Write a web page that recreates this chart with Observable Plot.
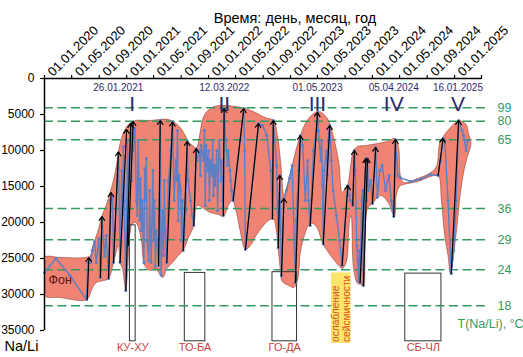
<!DOCTYPE html>
<html><head><meta charset="utf-8">
<script src="https://cdn.jsdelivr.net/npm/d3@7"></script>
<script src="https://cdn.jsdelivr.net/npm/@observablehq/plot@0.6"></script>
<style>body{margin:0;background:#fff;} svg{display:block}</style>
</head><body><div id="chart"></div>
<script>
// ---- data ----
const tickLabels = ["01.01.2020","01.05.2020","01.09.2020","01.01.2021","01.05.2021","01.09.2021","01.01.2022","01.05.2022","01.09.2022","01.01.2023","01.05.2023","01.09.2023","01.01.2024","01.05.2024","01.09.2024","01.01.2025"];
const axisStart = "01.01.2020";
const axisEnd = "01.05.2025";
const yTicks = [0, 5000, 10000, 15000, 20000, 25000, 30000, 35000];

const tempLabels = ["99","80","65","36","29","24","18"];
const tempNaLi = [4070, 5930, 8510, 18060, 22400, 26570, 31570];

const eventDates = ["26.01.2021","12.03.2022","01.05.2023","05.04.2024","16.01.2025"];
const eventNumerals = ["I","II","III","IV","V"];
const numeralLevel = 3540;
const eventDateLevel = 1250;

const quakeNames = ["КУ-ХУ","ТО-БА","ГО-ДА","СБ-ЧЛ"];
const quakeStart = [2021.04, 2021.71, 2022.78, 2024.40];
const quakeEnd = [2021.11, 2021.96, 2023.08, 2024.84];
const quakeTop = [20400, 27000, 26900, 27100];
const quakeBottom = 36500;
const quakeLabelLevel = 37300;

const weakeningText = ["ослабление", "сейсмичности"];
const weakeningStart = 2023.50, weakeningEnd = 2023.74;
const weakeningTop = 27000, weakeningBottom = 36800;

const backgroundLabel = "Фон";
const backgroundYear = 2020.05, backgroundValue = 28000;

// envelope (decimal years, Na/Li)
const envTopYear = [2020.00,2020.19,2020.50,2020.56,2020.59,2020.66,2020.70,2020.75,2020.80,2020.86,2020.92,2020.985,2021.05,2021.11,2021.29,2021.51,2021.63,2021.71,2021.75,2021.82,2021.85,2021.89,2021.94,2022.02,2022.12,2022.21,2022.33,2022.45,2022.57,2022.69,2022.79,2022.84,2022.88,2022.92,2022.95,2023.02,2023.12,2023.22,2023.34,2023.45,2023.52,2023.59,2023.63,2023.67,2023.70,2023.73,2023.77,2023.82,2023.92,2024.06,2024.18,2024.28,2024.32,2024.34,2024.38,2024.55,2024.71,2024.78,2024.82,2024.87,2024.95,2025.05,2025.14,2025.17,2025.20];
const envTopValue = [24860,24860,24860,24580,23200,20830,19030,17640,15830,13060,9030,6940,6110,5830,5830,5690,6530,7780,8750,9440,9720,7920,5280,4170,3750,3750,3890,4170,4720,5420,5830,7920,11670,16250,15280,12080,7920,5560,4580,5560,7920,11670,15830,15280,14720,12500,10000,9440,9310,9030,8750,8330,9720,13470,14450,13890,13060,12220,8890,7920,6810,5830,6390,7640,9030];
const envBotYear = [2020.00,2020.19,2020.47,2020.53,2020.58,2020.63,2020.72,2020.78,2020.84,2020.90,2020.92,2020.95,2020.97,2020.99,2021.01,2021.03,2021.05,2021.06,2021.11,2021.14,2021.18,2021.22,2021.29,2021.35,2021.44,2021.49,2021.56,2021.63,2021.69,2021.75,2021.82,2021.86,2021.94,2022.02,2022.12,2022.18,2022.24,2022.29,2022.34,2022.39,2022.45,2022.51,2022.58,2022.66,2022.73,2022.79,2022.83,2022.87,2022.90,2022.98,2023.04,2023.09,2023.12,2023.17,2023.22,2023.27,2023.33,2023.39,2023.49,2023.59,2023.63,2023.68,2023.72,2023.74,2023.77,2023.82,2023.86,2023.89,2023.91,2023.94,2024.00,2024.10,2024.20,2024.25,2024.27,2024.29,2024.33,2024.38,2024.55,2024.71,2024.80,2024.84,2024.88,2024.92,2024.95,2024.99,2025.03,2025.06,2025.11,2025.15];
const envBotValue = [30140,30420,30840,30560,29170,28340,28060,27780,25560,23200,25560,26390,28060,29590,26950,22500,20830,20280,20000,20560,22500,25970,26670,26390,27640,26390,25560,24580,23890,22220,20420,17640,18060,18610,18890,19170,17640,16950,18610,21390,23750,23200,21810,20560,19720,19450,21390,25970,28200,28750,29030,27780,24170,21810,20420,20140,20830,22780,24580,25970,26390,25560,19720,19030,26390,28470,28600,28900,23000,18060,17360,16250,17360,18890,19170,16250,15000,14720,14310,13610,13470,16950,21810,24580,27090,24170,20420,16950,13060,11110];

// Na/Li series
const seriesYear = [2020.00,2020.14,2020.31,2020.51,2020.53,2020.56,2020.58,2020.61,2020.63,2020.66,2020.68,2020.70,2020.73,2020.75,2020.78,2020.80,2020.83,2020.84,2020.86,2020.89,2020.90,2020.92,2020.94,2020.95,2020.96,2020.97,2020.99,2021.01,2021.02,2021.03,2021.05,2021.06,2021.07,2021.08,2021.10,2021.12,2021.13,2021.14,2021.16,2021.17,2021.18,2021.19,2021.21,2021.22,2021.23,2021.24,2021.25,2021.27,2021.28,2021.29,2021.30,2021.32,2021.33,2021.34,2021.35,2021.36,2021.38,2021.39,2021.41,2021.42,2021.44,2021.45,2021.46,2021.47,2021.49,2021.51,2021.54,2021.56,2021.58,2021.60,2021.61,2021.62,2021.63,2021.64,2021.66,2021.67,2021.68,2021.69,2021.72,2021.74,2021.75,2021.78,2021.80,2021.82,2021.85,2021.86,2021.89,2021.90,2021.91,2021.94,2021.95,2021.96,2021.97,2021.99,2022.00,2022.01,2022.02,2022.04,2022.05,2022.06,2022.07,2022.08,2022.10,2022.11,2022.12,2022.13,2022.15,2022.16,2022.17,2022.18,2022.19,2022.21,2022.22,2022.23,2022.24,2022.26,2022.27,2022.28,2022.30,2022.43,2022.44,2022.45,2022.61,2022.66,2022.71,2022.76,2022.78,2022.79,2022.83,2022.85,2022.87,2022.89,2022.92,2022.95,2022.99,2023.02,2023.06,2023.07,2023.10,2023.12,2023.15,2023.18,2023.21,2023.22,2023.24,2023.28,2023.30,2023.33,2023.34,2023.37,2023.38,2023.39,2023.40,2023.41,2023.44,2023.45,2023.46,2023.48,2023.50,2023.52,2023.56,2023.60,2023.63,2023.70,2023.72,2023.73,2023.76,2023.78,2023.79,2023.81,2023.82,2023.83,2023.84,2023.85,2023.87,2023.88,2023.89,2023.90,2023.92,2023.93,2023.94,2023.95,2023.98,2024.00,2024.04,2024.06,2024.09,2024.12,2024.16,2024.20,2024.23,2024.26,2024.28,2024.31,2024.34,2024.47,2024.59,2024.71,2024.80,2024.83,2024.86,2024.88,2024.92,2024.96,2024.99,2025.02,2025.05,2025.09,2025.11,2025.14,2025.16];
const seriesValue = [26950,25000,27360,30700,25560,25560,23890,22640,25560,22220,27640,19450,24720,21810,27780,16950,16390,25560,21110,12500,10400,25560,12780,19030,9440,16950,29450,8610,23200,11390,6530,14170,6110,10000,6940,16950,19030,8610,19720,13890,21110,16950,25560,12500,16950,11110,22500,25280,15560,21110,25560,12780,22500,16950,26110,21110,23890,25970,5830,27300,18330,24580,14170,21110,25560,14170,10000,6050,16950,11390,14170,7220,19720,13470,15560,22500,16950,23890,18330,8750,14170,16950,19030,20420,9750,11390,10000,13470,9310,11390,7220,17640,9310,12780,10000,16950,11390,13470,8610,16250,12080,14860,10000,18330,12780,8610,14170,11390,16950,19030,4170,8610,10000,12080,10000,12780,14170,15560,16950,4170,10000,23750,6250,6530,7920,12780,19450,5830,12080,23500,13470,27400,16670,15560,13800,12080,28340,19720,12780,7920,9310,16950,11390,16950,20420,10000,8610,4720,7220,11390,8610,14860,23000,12780,10000,13470,8610,6530,11390,15560,19030,22500,25970,14860,16250,16950,17640,10000,12780,23200,25280,28060,23890,28340,16950,15560,28750,19720,11110,16950,11110,15560,14170,17360,9580,16500,12780,12080,15560,13470,16950,19170,8470,13470,13800,14310,13960,13330,13470,11390,8330,8610,16950,27090,23890,16950,5830,7220,7920,10000,8610];

// jumps (arrows)
const jumpFromYear = [2020.52,2020.68,2020.78,2020.84,2020.92,2020.99,2021.02,2021.39,2021.49,2021.69,2021.82,2022.18,2022.30,2022.45,2022.78,2022.85,2022.89,2023.06,2023.24,2023.40,2023.63,2023.76,2023.85,2023.89,2024.00,2024.26,2024.80,2024.96];
const jumpFromValue = [30700,27640,27780,25560,25560,29450,23200,25970,25560,23890,20420,19030,16950,23750,19450,23500,27400,28340,20420,23000,25970,17640,28340,28750,17360,19170,13470,27090];
const jumpToYear = [2020.54,2020.70,2020.81,2020.90,2021.00,2021.05,2021.08,2021.41,2021.56,2021.74,2021.85,2022.19,2022.43,2022.61,2022.79,2022.87,2022.92,2023.12,2023.33,2023.48,2023.70,2023.78,2023.92,2023.94,2024.04,2024.28,2024.86,2025.05];
const jumpToValue = [24860,19170,15830,10200,7080,6250,5970,5830,6050,8750,9750,4170,4170,6250,5830,13470,16670,7920,4720,6530,14860,10000,11110,11110,9580,8470,8330,5830];

// ---- helpers ----
const parseDMY = s => { const [d, m, y] = s.split(".").map(Number); return new Date(Date.UTC(y, m - 1, d)); };
const yd = v => { const y = Math.floor(v); const s = Date.UTC(y, 0, 1), e = Date.UTC(y + 1, 0, 1); return new Date(s + (v - y) * (e - s)); };

const tickDates = tickLabels.map(parseDMY);
const allTicks = tickDates.concat([parseDMY(axisEnd)]);
const envelope = envTopYear.map((t, i) => ({t: yd(t), v: envTopValue[i]}))
  .concat(envBotYear.map((t, i) => ({t: yd(t), v: envBotValue[i]})).reverse());
const series = seriesYear.map((t, i) => ({t: yd(t), v: seriesValue[i]}));
const jumps = jumpFromYear.map((t, i) => ({x1: yd(t), y1: jumpFromValue[i], x2: yd(jumpToYear[i]), y2: jumpToValue[i]}));
const events = eventDates.map((d, i) => ({t: parseDMY(d), label: d, numeral: eventNumerals[i]}));
const quakes = quakeNames.map((n, i) => ({name: n, x1: yd(quakeStart[i]), x2: yd(quakeEnd[i]), top: quakeTop[i]}));
const levels = tempNaLi.map((v, i) => ({v, label: tempLabels[i]}));

const GREEN = "#35995f", NAVY = "#2e2a6b", BLUE = "#5d7fc4", RED = "#c8413c";
const FONT = "Liberation Sans, Arial, Helvetica, sans-serif";

const chart = Plot.plot({
  width: 523, height: 357,
  marginTop: 78, marginBottom: 27, marginLeft: 44, marginRight: 42,
  style: {fontFamily: FONT, background: "white", color: "black"},
  x: {type: "utc", domain: [parseDMY(axisStart), parseDMY(axisEnd)]},
  y: {domain: [0, 35000], reverse: true},
  marks: [
    // envelope
    Plot.line(envelope, {x: "t", y: "v", fill: "#f08373", stroke: "#94402f", strokeWidth: 0.6, curve: "catmull-rom-closed", clip: true}),
    // quake rectangles
    Plot.rect(quakes, {x1: "x1", x2: "x2", y1: "top", y2: () => quakeBottom, fill: "none", stroke: "#333", strokeWidth: 1}),
    // green dashed temperature levels
    Plot.ruleY(levels, {y: "v", stroke: GREEN, strokeWidth: 1.4, strokeDasharray: "9,4.5", insetRight: -5}),
    // weakening box
    Plot.rect([0], {x1: () => yd(weakeningStart), x2: () => yd(weakeningEnd), y1: () => weakeningTop, y2: () => weakeningBottom, fill: "#fbe56a"}),
    Plot.text([weakeningText.join("\n")], {x: () => yd((weakeningStart + weakeningEnd) / 2), y: () => weakeningBottom - 200, text: d => d, rotate: -90, textAnchor: "start", fontSize: 10.2, lineHeight: 1.05, fill: "#d9531f"}),
    // series
    Plot.line(series, {x: "t", y: "v", stroke: BLUE, strokeWidth: 1.4}),
    Plot.dot(series, {x: "t", y: "v", r: 1.5, fill: BLUE}),
    // jumps
    Plot.arrow(jumps, {x1: "x1", y1: "y1", x2: "x2", y2: "y2", stroke: "black", strokeWidth: 1.2, headLength: 6, headAngle: 70}),
    // axes
    Plot.ruleY([0], {stroke: "black", strokeWidth: 1.3}),
    Plot.ruleX([parseDMY(axisStart)], {stroke: "black", strokeWidth: 1.5}),
    Plot.axisX(allTicks, {anchor: "top", tickSize: 4, tickFormat: () => "", label: null, strokeWidth: 1.2}),
    Plot.text(tickDates, {x: d => d, text: (d, i) => tickLabels[i], frameAnchor: "top", rotate: -45, textAnchor: "start", dy: -8, dx: 2, fontSize: 13}),
    Plot.axisY(yTicks, {anchor: "left", tickSize: 4, tickPadding: 6, tickFormat: "d", fontSize: 12, label: null, strokeWidth: 1.2}),
    // temperature labels
    Plot.text(levels, {y: "v", text: "label", frameAnchor: "right", dx: 16, textAnchor: "start", fill: GREEN, fontSize: 12.5}),
    Plot.text(["T(Na/Li), °C"], {text: d => d, frameAnchor: "bottom-right", dx: -24, dy: -3, textAnchor: "start", fill: GREEN, fontSize: 12.5}),
    // events
    Plot.text(events, {x: "t", y: () => numeralLevel, text: "numeral", fontSize: 21, fill: NAVY}),
    Plot.text(events.slice(0, 1), {x: "t", y: () => eventDateLevel, text: "label", fontSize: 10, fill: NAVY, dx: -14}),
    Plot.text(events.slice(1), {x: "t", y: () => eventDateLevel, text: "label", fontSize: 10, fill: NAVY}),
    // quake labels
    Plot.text(quakes, {x: d => new Date((+d.x1 + +d.x2) / 2), y: () => quakeLabelLevel, text: "name", fontSize: 11, fill: RED}),
    // background label
    Plot.text([backgroundLabel], {x: () => yd(backgroundYear), y: () => backgroundValue, text: d => d, textAnchor: "start", fontSize: 12.5, fill: "#5c1515"}),
    // titles
    Plot.text(["Время: день, месяц, год"], {text: d => d, frameAnchor: "top", dx: 32, dy: -66, fontSize: 14.5}),
    Plot.text(["Na/Li"], {text: d => d, frameAnchor: "bottom-left", dx: -40, dy: 20, textAnchor: "start", fontSize: 14.5})
  ]
});
document.getElementById("chart").appendChild(chart);
</script>
</body></html>
